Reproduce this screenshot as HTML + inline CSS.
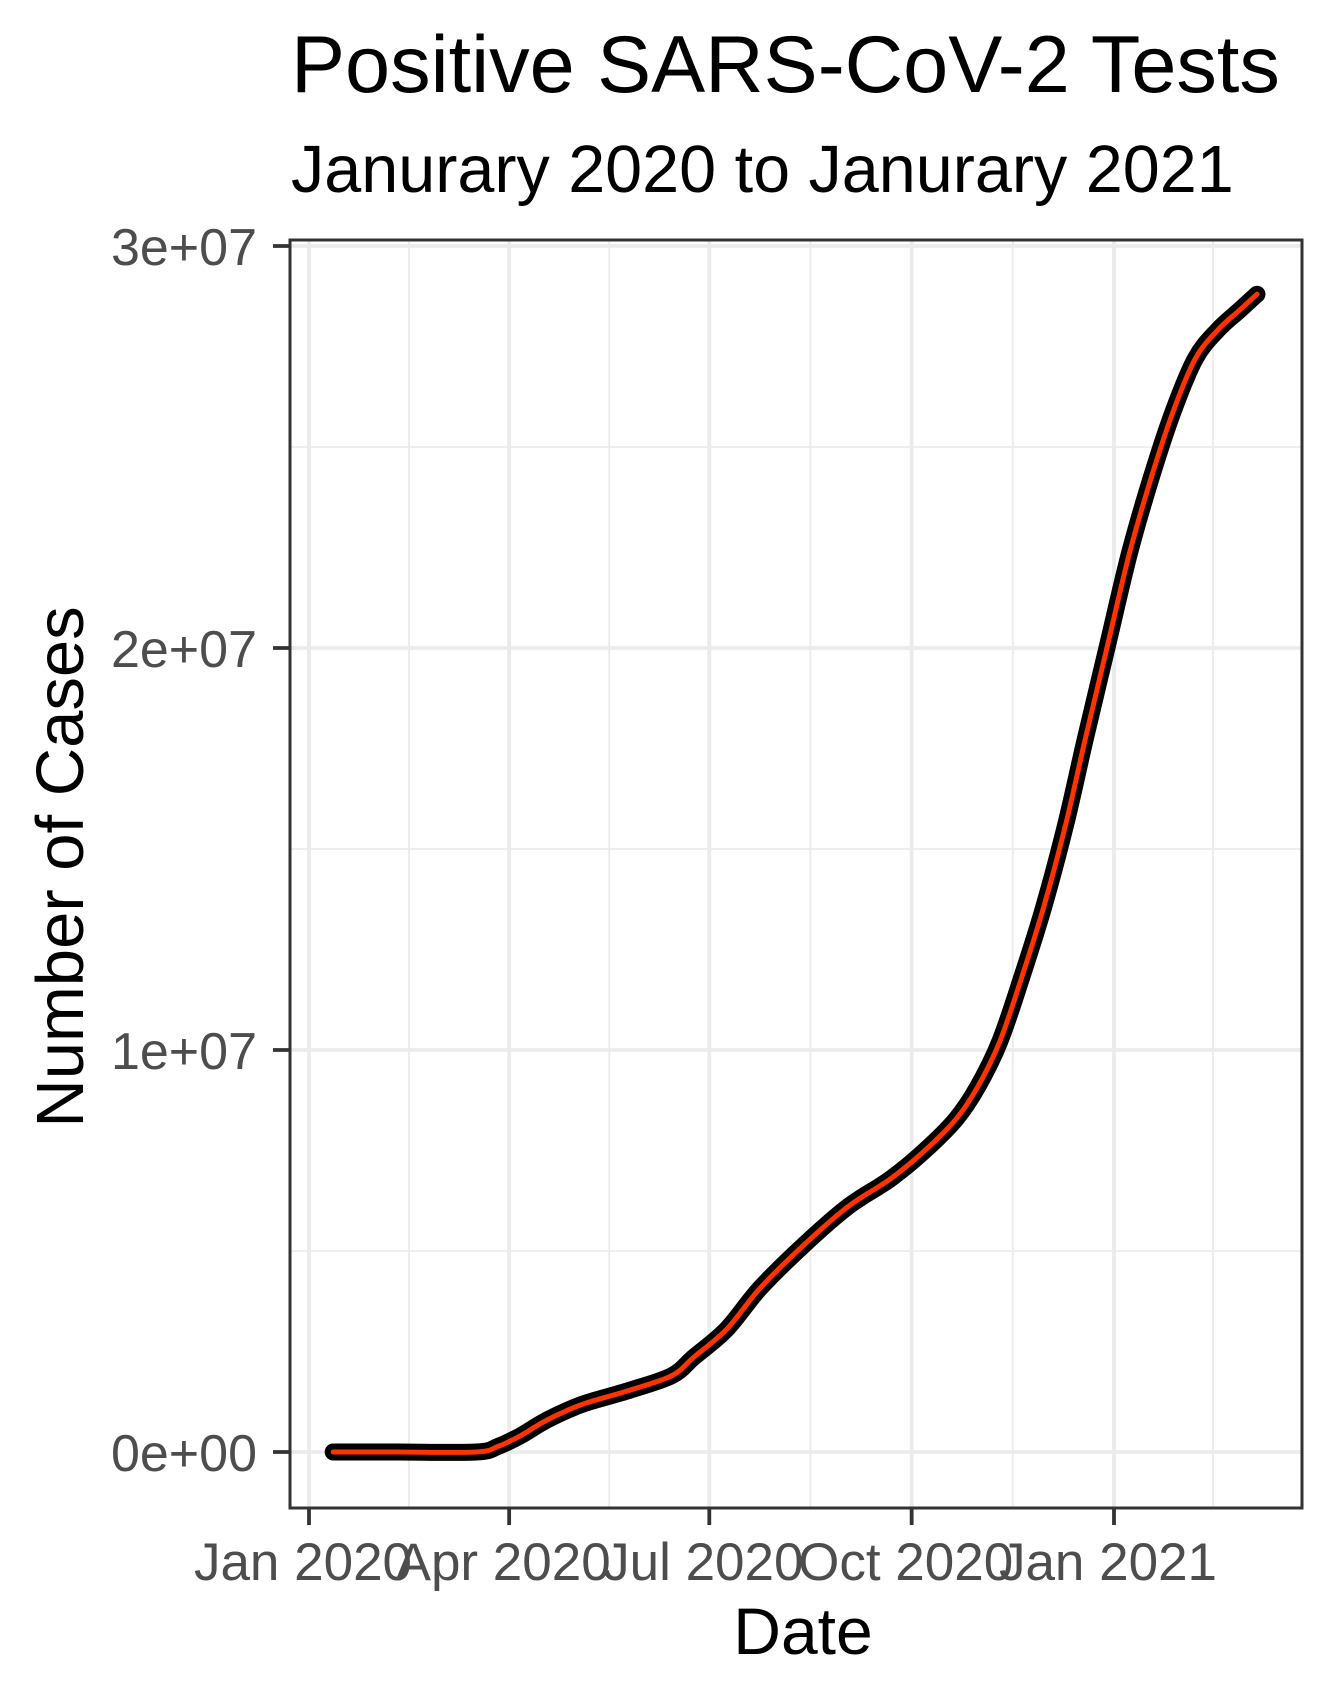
<!DOCTYPE html>
<html><head><meta charset="utf-8"><style>
html,body{margin:0;padding:0;background:#fff;}
svg{display:block;font-family:"Liberation Sans",Arial,sans-serif;}
</style></head><body>
<svg id="chart" width="1337" height="1703" viewBox="0 0 1337 1703">
<text x="291" y="92" font-size="81" fill="#000">Positive SARS-CoV-2 Tests</text>
<text x="291" y="192" font-size="66.5" fill="#000">Janurary 2020 to Janurary 2021</text>
<rect x="290" y="240" width="1012" height="1268" fill="#fff"/>
<g id="grid"></g>
<g id="series"></g>
<rect x="290" y="240" width="1012" height="1268" fill="none" stroke="#333" stroke-width="3"/>
<g id="axes"></g>
<text transform="translate(83,867) rotate(-90)" text-anchor="middle" font-size="67" fill="#000">Number of Cases</text>
<text x="803" y="1654" text-anchor="middle" font-size="66" fill="#000">Date</text>
</svg>
<script>
const dayValues = [11, 40, 76, 86, 96, 106, 116, 126, 146, 165, 175, 190, 205, 225, 245, 264, 279, 294, 304, 314, 324, 334, 344, 353, 363, 373, 383, 393, 403, 413, 423, 431];
const caseMillions = [0, 0, 0, 0.14, 0.4, 0.73, 1.0, 1.22, 1.54, 1.9, 2.36, 3.06, 4.07, 5.15, 6.1, 6.78, 7.45, 8.27, 9.08, 10.2, 11.8, 13.55, 15.6, 17.75, 20.05, 22.35, 24.25, 25.9, 27.2, 27.9, 28.4, 28.8];
const xTickDays = [0, 91, 182, 274, 366];
const xTickLabels = ["Jan 2020", "Apr 2020", "Jul 2020", "Oct 2020", "Jan 2021"];
const xMinorDays = [45.5, 136.5, 228, 320, 411];
const yTickValues = [0, 10, 20, 30];
const yTickLabels = ["0e+00", "1e+07", "2e+07", "3e+07"];
const yMinorValues = [5, 15, 25];

const NS = "http://www.w3.org/2000/svg";
function xS(d){ return 309 + d * (1114 - 309) / 366; }
function yS(v){ return 1452 - v * (1452 - 246) / 30; }
function mk(tag, attrs, parent){
  const e = document.createElementNS(NS, tag);
  for (const k in attrs) e.setAttribute(k, attrs[k]);
  parent.appendChild(e);
  return e;
}
const grid = document.getElementById('grid');
const axes = document.getElementById('axes');
const series = document.getElementById('series');

yMinorValues.forEach(v => {
  const l = mk('line', {x1:290, x2:1302, y1:yS(v), y2:yS(v), stroke:'#EBEBEB', 'stroke-width':1.8}, grid);
  
  
});
xMinorDays.forEach(d => {
  const l = mk('line', {x1:xS(d), x2:xS(d), y1:240, y2:1508, stroke:'#EBEBEB', 'stroke-width':1.8}, grid);
  
  
});
yTickValues.forEach((v, i) => {
  const y = yS(v);
  const g = mk('line', {x1:290, x2:1302, y1:y, y2:y, stroke:'#EBEBEB', 'stroke-width':3.8}, grid);
  
  
  const t = mk('line', {x1:273, x2:290, y1:y, y2:y, stroke:'#333', 'stroke-width':3.8}, axes);
  
  
  const tx = mk('text', {x:257, y:y + 19, 'text-anchor':'end', 'font-size':52, fill:'#4D4D4D'}, axes);
  tx.textContent = yTickLabels[i];
  
  
});
xTickDays.forEach((d, i) => {
  const x = xS(d);
  const g = mk('line', {x1:x, x2:x, y1:240, y2:1508, stroke:'#EBEBEB', 'stroke-width':3.8}, grid);
  
  
  const t = mk('line', {x1:x, x2:x, y1:1508, y2:1525, stroke:'#333', 'stroke-width':3.8}, axes);
  
  
  const tx = mk('text', {x:x - 6, y:1580, 'text-anchor':'middle', 'font-size':53, fill:'#4D4D4D'}, axes);
  tx.textContent = xTickLabels[i];
  
  
});

const pts = dayValues.map((d, i) => [xS(d), yS(caseMillions[i])]);
let dStr = 'M' + pts[0][0] + ',' + pts[0][1];
for (let i = 0; i < pts.length - 1; i++) {
  const p0 = pts[Math.max(0, i - 1)], p1 = pts[i], p2 = pts[i + 1], p3 = pts[Math.min(pts.length - 1, i + 2)];
  const c1x = p1[0] + (p2[0] - p0[0]) / 6, c1y = p1[1] + (p2[1] - p0[1]) / 6;
  const c2x = p2[0] - (p3[0] - p1[0]) / 6, c2y = p2[1] - (p3[1] - p1[1]) / 6;
  dStr += ' C' + c1x + ',' + c1y + ' ' + c2x + ',' + c2y + ' ' + p2[0] + ',' + p2[1];
}
const outline = mk('path', {d:dStr, fill:'none', stroke:'#000', 'stroke-width':17, 'stroke-linecap':'round', 'stroke-linejoin':'round'}, series);


const line = mk('path', {d:dStr, fill:'none', stroke:'#FF3300', 'stroke-width':5, 'stroke-linecap':'round', 'stroke-linejoin':'round'}, series);


</script>
</body></html>
